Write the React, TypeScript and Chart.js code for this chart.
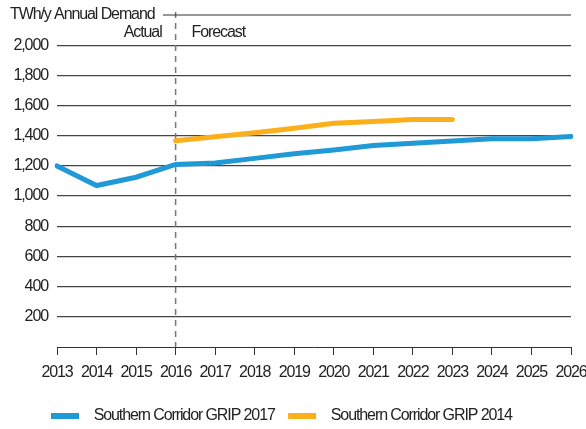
import React, { useEffect, useRef } from "react";
import { Chart, registerables } from "chart.js";

Chart.register(...registerables);

const years = ["2013", "2014", "2015", "2016", "2017", "2018", "2019", "2020", "2021", "2022", "2023", "2024", "2025", "2026"];
const grip2017 = [1200, 1070, 1125, 1210, 1220, 1250, 1280, 1305, 1335, 1350, 1365, 1380, 1380, 1395];
const grip2014 = [null, null, null, 1367, 1393, 1420, 1450, 1482, 1495, 1507, 1507, null, null, null];
const seriesNames = ["Southern Corridor GRIP 2017", "Southern Corridor GRIP 2014"];
const yTicks = [200, 400, 600, 800, 1000, 1200, 1400, 1600, 1800, 2000];
const axisTitle = "TWh/y Annual Demand";
const actualLabel = "Actual";
const forecastLabel = "Forecast";
const splitYear = "2016";

const FAMILY = "'Liberation Sans', Arial, sans-serif";
const SIZE = 16;
const SPACING = "-1.1px";
const TEXT = "#222";
const fontOpt = { family: FAMILY, size: SIZE };

function condense(chart: any) {
  const ctx = chart.ctx;
  if (ctx && "letterSpacing" in ctx) ctx.letterSpacing = SPACING;
}

export default function App() {
  const ref = useRef<HTMLCanvasElement | null>(null);
  useEffect(() => {
    if (!ref.current) return;
    const annot = {
      id: "annot",
      beforeUpdate(chart: any) { condense(chart); },
      beforeLayout(chart: any) { condense(chart); },
      beforeDraw(chart: any) { condense(chart); },
      afterLayout(chart: any) {
        const lg = chart.legend;
        if (lg) {
          const dx = 41;
          const dy = 15;
          lg.left += dx; lg.right += dx; lg.top += dy; lg.bottom += dy;
        }
      },
      beforeDatasetsDraw(chart: any) {
        const { ctx, chartArea, scales } = chart;
        const x = scales.x.getPixelForValue(years.indexOf(splitYear));
        const yTop = scales.y.getPixelForValue(2200);
        ctx.save();
        ctx.strokeStyle = "#777";
        ctx.lineWidth = 1.5;
        ctx.setLineDash([6, 5]);
        ctx.beginPath();
        ctx.moveTo(x, 12);
        ctx.lineTo(x, chartArea.bottom);
        ctx.stroke();
        ctx.setLineDash([]);
        ctx.strokeStyle = "#333";
        ctx.lineWidth = 1;
        ctx.beginPath();
        ctx.moveTo(163, yTop);
        ctx.lineTo(chartArea.right, yTop);
        ctx.stroke();
        ctx.fillStyle = TEXT;
        ctx.font = `${SIZE}px ${FAMILY}`;
        ctx.textBaseline = "middle";
        ctx.textAlign = "left";
        ctx.fillText(axisTitle, 10, yTop);
        ctx.textAlign = "right";
        ctx.fillText(actualLabel, x - 14, 33);
        ctx.textAlign = "left";
        ctx.fillText(forecastLabel, x + 16, 33);
        ctx.restore();
      },
    };
    const chart = new Chart(ref.current, {
      type: "line",
      data: {
        labels: years,
        datasets: [
          { label: seriesNames[0], data: grip2017, borderColor: "#1f9ad7", backgroundColor: "#1f9ad7", borderWidth: 5, pointRadius: 0, tension: 0, borderCapStyle: "round" },
          { label: seriesNames[1], data: grip2014 as any, borderColor: "#fbb01b", backgroundColor: "#fbb01b", borderWidth: 5, pointRadius: 0, tension: 0, borderCapStyle: "round" },
        ],
      },
      options: {
        animation: false,
        responsive: false,
        maintainAspectRatio: false,
        layout: { padding: { top: 15, right: 15, left: 0, bottom: 10 } },
        plugins: {
          tooltip: { enabled: false },
          legend: {
            position: "bottom",
            align: "start",
            labels: {
              boxWidth: 28,
              boxHeight: 6,
              padding: 10,
              color: TEXT,
              font: fontOpt,
              generateLabels(chart: any) {
                return chart.data.datasets.map((d: any, i: number) => ({
                  text: "  " + d.label + (i === 0 ? " " : ""),
                  fillStyle: d.borderColor,
                  strokeStyle: d.borderColor,
                  lineWidth: 0,
                  hidden: false,
                  datasetIndex: i,
                  fontColor: TEXT,
                }));
              },
            },
          },
        },
        scales: {
          x: {
            type: "category",
            offset: false,
            grid: { display: true, drawOnChartArea: false, drawTicks: true, tickLength: 8, color: "#333", lineWidth: 1 },
            border: { display: true, color: "#333", width: 1 },
            ticks: { color: TEXT, font: fontOpt, padding: 8, maxRotation: 0, autoSkip: false },
            afterFit(scale: any) { scale.height = 36; scale.paddingLeft = 0; scale.paddingRight = 0; },
          },
          y: {
            min: 0,
            max: 2200,
            afterBuildTicks(scale: any) {
              scale.ticks = [0, ...yTicks, 2200].map((v) => ({ value: v }));
            },
            grid: {
              drawTicks: false,
              color: (c: any) => (c.tick && (c.tick.value === 0 || c.tick.value === 2200) ? "rgba(0,0,0,0)" : "#444"),
              lineWidth: 1.2,
            },
            border: { display: false },
            ticks: {
              color: TEXT,
              font: fontOpt,
              padding: 9,
              callback: (v: any) => (yTicks.includes(Number(v)) ? Number(v).toLocaleString("en-US") : ""),
            },
            afterFit(scale: any) { scale.width = 57; scale.paddingTop = 0; scale.paddingBottom = 0; },
          },
        },
      },
      plugins: [annot],
    });
    return () => chart.destroy();
  }, []);
  return (
    <div style={{ position: "fixed", left: 0, top: 0, width: 586, height: 429, background: "#fff" }}>
      <canvas ref={ref} width={586} height={429} style={{ width: 586, height: 429, display: "block" }} />
    </div>
  );
}
